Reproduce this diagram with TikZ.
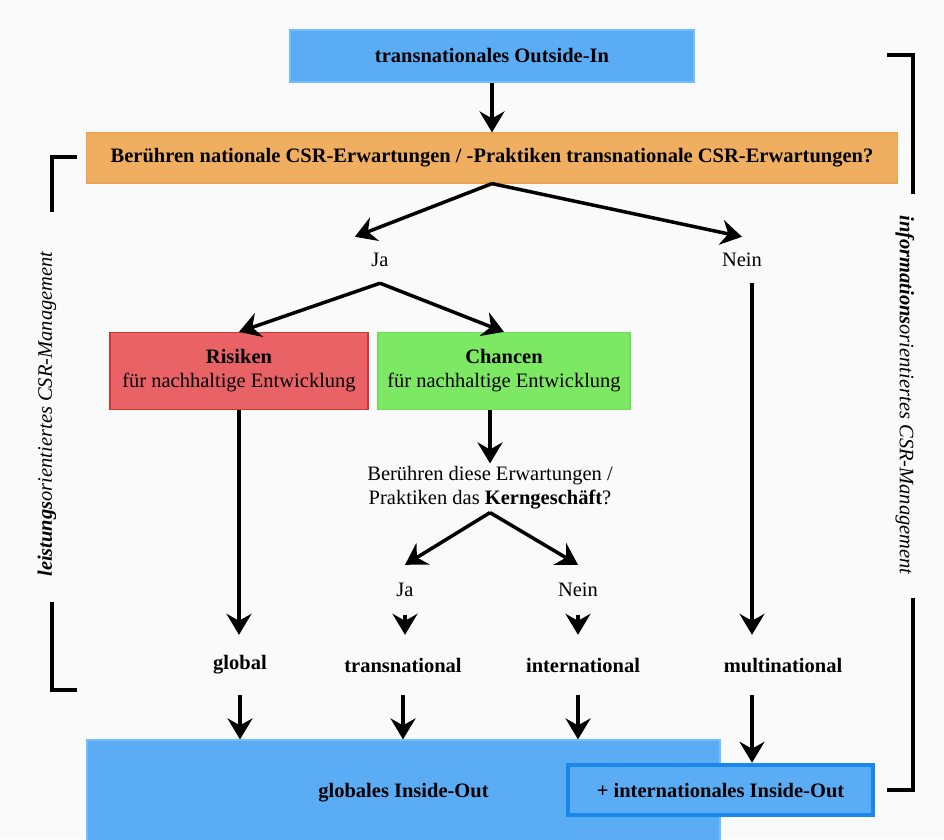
\documentclass[tikz,border=0pt]{standalone}
\usepackage{fontspec}
\setmainfont{Liberation Serif}
\usetikzlibrary{arrows.meta}
\definecolor{boxblau}{RGB}{90,172,245}
\definecolor{randblau}{RGB}{115,190,255}
\definecolor{tiefblau}{RGB}{25,135,235}
\definecolor{boxorange}{RGB}{240,174,96}
\definecolor{randorange}{RGB}{236,164,78}
\definecolor{boxrot}{RGB}{232,98,102}
\definecolor{randrot}{RGB}{212,52,52}
\definecolor{boxgruen}{RGB}{125,232,100}
\definecolor{randgruen}{RGB}{108,224,88}
\begin{document}
\begin{tikzpicture}[x=1pt, y=-1pt,
  every node/.style={font=\fontsize{20.5}{24}\selectfont},
  kasten/.style={draw, line width=1.2pt, inner sep=0pt, align=center},
  pfeil/.style={line width=3.5pt, -{Stealth[length=21pt,width=25pt,inset=7pt]}},
  marke/.style={minimum width=50pt, minimum height=46pt, inner sep=0pt},
  ebene/.style={font=\fontsize{20.5}{24}\selectfont\bfseries, minimum height=60pt, inner sep=0pt},
  klammer/.style={line width=4pt}]
  \useasboundingbox[fill=black!2] (0,0) rectangle (944,839);

  % Ausgangspunkt und Frage
  \node[kasten, fill=boxblau, draw=randblau, minimum width=404pt, minimum height=52pt,
        font=\fontsize{20.5}{24}\selectfont\bfseries] (outin) at (492,56) {transnationales Outside-In};
  \node[kasten, fill=boxorange, draw=randorange, minimum width=811pt, minimum height=50pt,
        font=\fontsize{20.5}{24}\selectfont\bfseries] (frage) at (492,158)
        {Berühren nationale CSR-Erwartungen / -Praktiken transnationale CSR-Erwartungen?};
  \node[marke] (ja1) at (380,260) {Ja};
  \node[marke] (nein1) at (742,260) {Nein};

  % Risiken und Chancen
  \node[kasten, fill=boxrot, draw=randrot, minimum width=258pt, minimum height=77pt] (risk) at (239,371)
        {\textbf{Risiken}\\für nachhaltige Entwicklung};
  \node[kasten, fill=boxgruen, draw=randgruen, minimum width=252pt, minimum height=77pt] (chance) at (504,371)
        {\textbf{Chancen}\\für nachhaltige Entwicklung};
  \node[align=center, inner sep=3pt] (kern) at (490,488)
        {Berühren diese Erwartungen /\\Praktiken das \textbf{Kerngeschäft}?};
  \node[marke, minimum height=50pt] (ja2) at (405,590) {Ja};
  \node[marke, minimum height=50pt] (nein2) at (578,590) {Nein};

  % Ebenen
  \node[ebene] (global) at (240,665) {global};
  \node[ebene] (trans) at (403,665) {transnational};
  \node[ebene] (inter) at (583,665) {international};
  \node[ebene] (multi) at (783,665) {multinational};
  \coordinate (mpfad) at (752,0);

  % Inside-Out
  \node[kasten, fill=boxblau, draw=randblau, minimum width=633pt, minimum height=105pt,
        font=\fontsize{20.5}{24}\selectfont\bfseries] (globalio) at (403.5,792.5) {globales Inside-Out};
  \node[kasten, fill=boxblau, draw=tiefblau, line width=4.5pt, minimum width=305pt, minimum height=50pt,
        font=\fontsize{20.5}{24}\selectfont\bfseries] (interio) at (720.5,790) {+ internationales Inside-Out};

  % Pfeile
  \draw[pfeil] (outin) -- (frage);
  \draw[pfeil] (frage.south) -- (ja1.north west);
  \draw[pfeil] (frage.south) -- (nein1.north);
  \draw[pfeil] (ja1.south) -- (risk.north);
  \draw[pfeil] (ja1.south) -- (chance.north);
  \draw[pfeil] (chance.south -| kern.north) -- (kern.north);
  \draw[pfeil] (kern.south) -- (ja2.north);
  \draw[pfeil] (kern.south) -- (nein2.north);
  \draw[pfeil] (risk.south) -- (risk.south |- global.north);
  \draw[pfeil] (ja2.south) -- (ja2.south |- trans.north);
  \draw[pfeil] (nein2.south) -- (nein2.south |- inter.north);
  \draw[pfeil] (nein1.south -| mpfad) -- (mpfad |- multi.north);
  \foreach \e in {global, trans} {
    \draw[pfeil] (\e.south) -- (\e.south |- globalio.north);
  }
  \draw[pfeil] (nein2.south |- inter.south) -- (nein2.south |- globalio.north);
  \draw[pfeil] (mpfad |- multi.south) -- (mpfad |- interio.north);

  % Klammern
  \draw[klammer] (77,157) -- (52,157) -- (52,212);
  \draw[klammer] (52,602) -- (52,690) -- (77,690);
  \draw[klammer] (887,55) -- (913,55) -- (913,194);
  \draw[klammer] (913,598) -- (913,790) -- (887,790);
  \node[rotate=90, font=\fontsize{20.5}{24}\selectfont\itshape] (leistung) at (47,414)
        {\textbf{leistungs}orientiertes CSR-Management};
  \node[rotate=-90, font=\fontsize{20.5}{24}\selectfont\itshape] (information) at (905,395)
        {\textbf{informations}orientiertes CSR-Management};
\end{tikzpicture}
\end{document}
